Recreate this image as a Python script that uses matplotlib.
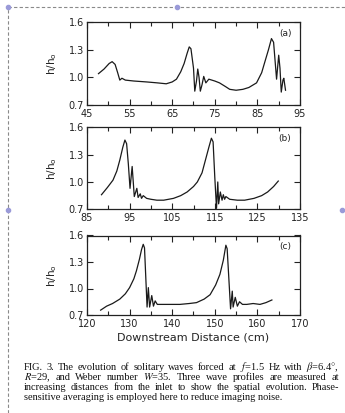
import matplotlib
matplotlib.use('Agg')
import matplotlib.pyplot as plt
from matplotlib.lines import Line2D

# 波形数据
xa = [47.7, 49.0, 50.2, 50.9, 51.6, 52.2, 52.7, 53.2, 54.0, 56.0, 59.0, 61.5, 63.6, 65.0, 66.0,
      67.0, 67.8, 68.5, 69.0, 69.4, 70.0, 70.3, 70.7, 71.0, 71.3, 71.6, 72.0, 72.4, 72.9, 73.6,
      75.0, 76.1, 77.5, 78.5, 80.0, 81.6, 83.0, 84.8, 86.0, 86.7, 87.6, 88.3, 88.8, 89.5, 90.0,
      90.3, 90.6, 91.0, 91.2, 91.6]
ya = [1.04, 1.09, 1.15, 1.17, 1.14, 1.05, 0.97, 0.99, 0.97, 0.96, 0.95, 0.94, 0.93, 0.95, 0.98,
      1.06, 1.15, 1.26, 1.33, 1.31, 1.10, 0.85, 0.96, 1.09, 1.00, 0.85, 0.92, 1.01, 0.94, 0.98,
      0.96, 0.94, 0.90, 0.87, 0.86, 0.87, 0.89, 0.94, 1.05, 1.16, 1.30, 1.42, 1.38, 0.98, 1.24,
      1.10, 0.84, 0.97, 0.99, 0.86]

xb = [88.4, 89.8, 91.1, 92.0, 92.7, 93.4, 93.9, 94.3, 94.7, 95.1, 95.6, 96.1, 96.7, 97.0, 97.5,
      97.8, 98.2, 99.0, 100.0, 101.4, 103.0, 105.3, 107.0, 108.5, 110.0, 110.9, 112.0, 112.8,
      113.6, 114.2, 114.6, 115.0, 115.4, 115.7, 115.9, 116.3, 116.7, 117.0, 117.3, 117.6, 118.5,
      120.3, 122.0, 124.2, 126.0, 127.4, 128.8, 129.9]
yb = [0.86, 0.94, 1.02, 1.12, 1.24, 1.38, 1.46, 1.42, 1.20, 0.93, 1.17, 0.84, 0.93, 0.83, 0.87,
      0.82, 0.85, 0.82, 0.81, 0.80, 0.80, 0.82, 0.85, 0.89, 0.95, 1.00, 1.10, 1.24, 1.38, 1.48,
      1.44, 1.05, 0.71, 1.00, 0.76, 0.89, 0.80, 0.86, 0.81, 0.84, 0.81, 0.80, 0.80, 0.82, 0.85,
      0.89, 0.95, 1.01]

xc = [123.2, 124.6, 126.0, 127.7, 129.0, 130.0, 131.0, 131.6, 132.3, 132.8, 133.2, 133.5, 134.1,
      134.4, 134.7, 135.2, 135.6, 136.0, 136.5, 137.2, 139.0, 141.8, 144.0, 145.7, 147.5, 148.9,
      150.2, 151.2, 152.0, 152.6, 152.9, 153.7, 154.1, 154.3, 154.8, 155.3, 155.8, 156.5, 157.5,
      159.0, 160.6, 162.0, 163.4]
yc = [0.755, 0.80, 0.83, 0.88, 0.94, 1.01, 1.11, 1.20, 1.33, 1.44, 1.50, 1.46, 0.79, 1.01, 0.79,
      0.92, 0.80, 0.86, 0.82, 0.82, 0.82, 0.82, 0.83, 0.84, 0.88, 0.93, 1.04, 1.16, 1.32, 1.49,
      1.45, 0.77, 0.97, 0.79, 0.90, 0.80, 0.85, 0.82, 0.82, 0.83, 0.82, 0.84, 0.87]

panels = [
    (xa, ya, (45, 95), '(a)'),
    (xb, yb, (85, 135), '(b)'),
    (xc, yc, (120, 170), '(c)'),
]
yticks = [0.7, 1.0, 1.3, 1.6]

caption = [
    'FIG. 3. The evolution of solitary waves forced at $f$=1.5 Hz with $\\beta$=6.4$\\degree$,',
    '$R$=29, and Weber number $W$=35. Three wave profiles are measured at',
    'increasing distances from the inlet to show the spatial evolution. Phase-',
    'sensitive averaging is employed here to reduce imaging noise.',
]

plt.rcParams['mathtext.fontset'] = 'stix'

W, H = 345, 413
fig = plt.figure(figsize=(W / 100, H / 100), dpi=100)
fig.patch.set_facecolor('white')

# 坐标轴位置（像素）：上、下边界
boxes = [(22, 105), (127.3, 209.3), (235.5, 315)]
left, right = 87, 300

for (x, y, xlim, tag), (top, bot) in zip(panels, boxes):
    ax = fig.add_axes([left / W, 1 - bot / H, (right - left) / W, (bot - top) / H])
    ax.plot(x, y, color='#1a1a1a', lw=0.9)
    ax.set_xlim(*xlim)
    ax.set_ylim(0.7, 1.6)
    ax.set_xticks(range(xlim[0], xlim[1] + 1, 10))
    ax.set_xticks(range(xlim[0], xlim[1] + 1, 5), minor=True)
    ax.set_yticks(yticks)
    ax.set_yticklabels(['0.7', '1.0', '1.3', '1.6'])
    ax.tick_params(which='both', direction='in', top=True, right=True, labelsize=7,
                   colors='#222222', length=4, width=0.8)
    ax.tick_params(axis='x', pad=3)
    ax.tick_params(axis='y', pad=2)
    ax.tick_params(which='minor', length=3)
    for s in ax.spines.values():
        s.set_linewidth(0.9)
        s.set_color('#222222')
    ax.set_ylabel('h/h$_\\mathregular{o}$', fontsize=7.5, color='#222222', labelpad=7)
    ax.text(0.96, 0.86, tag, transform=ax.transAxes, ha='right', va='center', fontsize=6.5,
            color='#222222')

fig.text((left + right) / 2 / W, 1 - 338 / H, 'Downstream Distance (cm)', ha='center',
         va='center', fontsize=8, color='#222222')

# 图注（两端对齐，最后一行左对齐）
renderer = fig.canvas.get_renderer()
cap_left, cap_right = 24, 339
for i, line in enumerate(caption):
    ypos = 1 - (367 + i * 10.3) / H
    kw = dict(ha='left', va='baseline', fontsize=7.5, family='Liberation Serif', color='#111111')
    ypos -= 2.5 / H
    if i == len(caption) - 1:
        fig.text(cap_left / W, ypos, line, **kw)
        continue
    words = line.split(' ')
    objs = [fig.text(0, ypos, w, **kw) for w in words]
    widths = [t.get_window_extent(renderer).width for t in objs]
    gap = (cap_right - cap_left - sum(widths)) / (len(words) - 1)
    xpos = cap_left
    for t, w in zip(objs, widths):
        t.set_x(xpos / W)
        xpos += w + gap

# 虚线边框和小点
fig.add_artist(Line2D([8 / W, 1], [1 - 7 / H, 1 - 7 / H], transform=fig.transFigure,
                      color='#8a8a8a', lw=0.8, ls=(0, (3, 2))))
fig.add_artist(Line2D([8 / W, 8 / W], [0, 1 - 7 / H], transform=fig.transFigure,
                      color='#8a8a8a', lw=0.8, ls=(0, (3, 2))))
for px, py in [(8, 7), (177, 7), (8, 210), (342, 210)]:
    fig.add_artist(Line2D([px / W], [1 - py / H], transform=fig.transFigure, marker='o',
                          ms=3, color='#9a9ad8', lw=0))

fig.savefig('out.png', dpi=100)
